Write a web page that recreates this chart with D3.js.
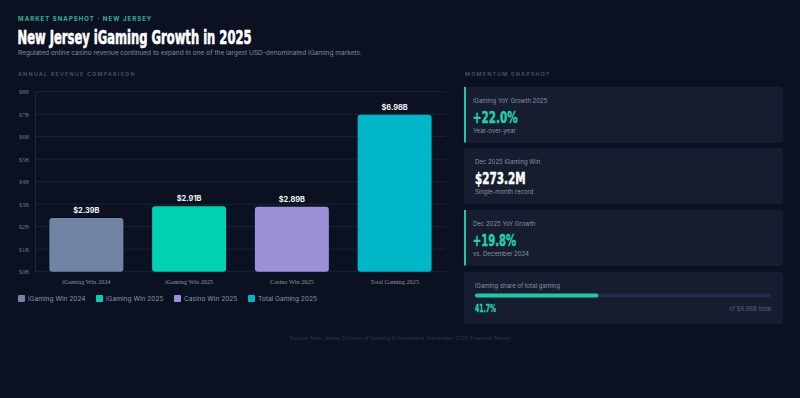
<!DOCTYPE html>
<html><head><meta charset="utf-8">
<script src="https://cdn.jsdelivr.net/npm/d3@7"></script>
<style>
html,body{margin:0;padding:0;background:#0b1120;}
svg{display:block;}
</style></head>
<body>
<svg id="chart" width="800" height="398"></svg>
<script>
const categories = ["iGaming Win 2024", "iGaming Win 2025", "Casino Win 2025", "Total Gaming 2025"];
const values = [2.39, 2.91, 2.89, 6.98];
const valueLabels = ["$2.39B", "$2.91B", "$2.89B", "$6.98B"];
const barColors = ["#7184a6", "#00d1b2", "#9d8fd8", "#00b7c9"];
const yTicks = [0, 1, 2, 3, 4, 5, 6, 7, 8];
const yTickLabels = ["$0B", "$1B", "$2B", "$3B", "$4B", "$5B", "$6B", "$7B", "$8B"];
const cardTitles = ["iGaming YoY Growth 2025", "Dec 2025 iGaming Win", "Dec 2025 YoY Growth"];
const cardValues = ["+22.0%", "$273.2M", "+19.8%"];
const cardNotes = ["Year-over-year", "Single-month record", "vs. December 2024"];
const cardAccent = [true, false, true];
const shareValue = [41.7];

const svg = d3.select("#chart");
const W = 800, H = 398;
svg.append("rect").attr("width", W).attr("height", H).attr("fill", "#0b1120");

const sans = "Inter, 'Noto Sans', sans-serif";
const cond = "'DejaVu Sans Condensed', 'Liberation Sans Narrow', sans-serif";

// Header
svg.append("text").attr("x", 18).attr("y", 21).text("MARKET SNAPSHOT · NEW JERSEY")
  .attr("fill", "#2bb79a").attr("font-family", sans).attr("font-size", 6).attr("font-weight", 700)
  .attr("letter-spacing", 1.05);
svg.append("text").attr("x", 17.5).attr("y", 44).text("New Jersey iGaming Growth in 2025")
  .attr("fill", "#ffffff").attr("stroke", "#ffffff").attr("stroke-width", 0.6)
  .attr("font-family", cond).attr("font-size", 19.5).attr("font-weight", 700)
  .attr("textLength", 234).attr("lengthAdjust", "spacingAndGlyphs");
svg.append("text").attr("x", 18).attr("y", 55).text("Regulated online casino revenue continued to expand in one of the largest USD-denominated iGaming markets.")
  .attr("fill", "#838b9d").attr("font-family", sans).attr("font-size", 6.55);
svg.append("text").attr("x", 18).attr("y", 76).text("ANNUAL REVENUE COMPARISON")
  .attr("fill", "#4a5468").attr("font-family", sans).attr("font-size", 5.4).attr("font-weight", 600).attr("letter-spacing", 1.2);

// Chart
const x = d3.scaleBand().domain(categories).range([35, 446]).paddingInner(0.28).paddingOuter(0.14);
const y = d3.scaleLinear().domain([0, 8]).range([271.7, 91.7]);

const grid = svg.append("g");
grid.selectAll("line").data(yTicks).join("line")
  .attr("x1", 35).attr("x2", 446).attr("y1", d => y(d)).attr("y2", d => y(d))
  .attr("stroke", "#1a2335").attr("stroke-width", 1);
svg.append("line").attr("x1", 35.5).attr("x2", 35.5).attr("y1", y(8)).attr("y2", y(0))
  .attr("stroke", "#1e2738");

const yAxis = svg.append("g").attr("transform", "translate(35,0)")
  .call(d3.axisLeft(y).tickValues(yTicks).tickFormat((d, i) => yTickLabels[i]).tickSize(0).tickPadding(6));
yAxis.select(".domain").remove();
yAxis.selectAll("text").attr("fill", "#6b7488").attr("font-family", "'Liberation Serif', serif").attr("font-size", 6);

const xAxis = svg.append("g").attr("transform", `translate(0,${y(0)})`)
  .call(d3.axisBottom(x).tickSize(0).tickPadding(8));
xAxis.select(".domain").remove();
xAxis.selectAll("text").attr("fill", "#8a93a6").attr("font-family", "'Liberation Serif', serif").attr("font-size", 6.3);

svg.append("g").selectAll("rect").data(values).join("rect")
  .attr("x", (d, i) => x(categories[i])).attr("width", x.bandwidth())
  .attr("y", d => y(d)).attr("height", d => y(0) - y(d))
  .attr("rx", 3).attr("fill", (d, i) => barColors[i]);

svg.append("g").selectAll("text").data(values).join("text")
  .attr("x", (d, i) => x(categories[i]) + x.bandwidth() / 2).attr("y", d => y(d) - 5)
  .attr("text-anchor", "middle").text((d, i) => valueLabels[i])
  .attr("fill", "#eef1f6").attr("font-family", sans).attr("font-size", 7.4).attr("font-weight", 700);

// Legend
const legendX = [18, 96, 174, 248];
const lg = svg.append("g").selectAll("g").data(categories).join("g")
  .attr("transform", (d, i) => `translate(${legendX[i]},295)`);
lg.append("rect").attr("width", 7).attr("height", 7).attr("rx", 1).attr("fill", (d, i) => barColors[i]);
lg.append("text").attr("x", 10).attr("y", 6.2).text(d => d)
  .attr("fill", "#8a93a6").attr("font-family", sans).attr("font-size", 6.6);

// Right panel
svg.append("text").attr("x", 465).attr("y", 76).text("MOMENTUM SNAPSHOT")
  .attr("fill", "#4a5468").attr("font-family", sans).attr("font-size", 5.4).attr("font-weight", 600).attr("letter-spacing", 1.2);

const cardY = [87, 148.5, 210];
const cardH = 55.5;
const valueWidths = [45, 50.5, 43.5];
const cards = svg.append("g").selectAll("g").data(cardTitles).join("g")
  .attr("transform", (d, i) => `translate(464,${cardY[i]})`);
cards.append("rect").attr("width", 319).attr("height", cardH).attr("rx", 4).attr("fill", "#151d2f")
  .attr("stroke", "#19223a").attr("stroke-width", 0.5);
cards.filter((d, i) => cardAccent[i]).append("rect").attr("width", 2).attr("height", cardH).attr("fill", "#1ec8a5");
cards.append("text").attr("x", (d, i) => cardAccent[i] ? 9 : 11).attr("y", 15.5).text(d => d)
  .attr("fill", "#8a93a6").attr("font-family", sans).attr("font-size", 6.0);
cards.append("text").attr("x", (d, i) => cardAccent[i] ? 8.7 : 11).attr("y", 35.5).text((d, i) => cardValues[i])
  .attr("fill", (d, i) => cardAccent[i] ? "#22d1ac" : "#ffffff")
  .attr("stroke", (d, i) => cardAccent[i] ? "#22d1ac" : "#ffffff").attr("stroke-width", 0.45)
  .attr("font-family", cond).attr("font-size", 15.5).attr("font-weight", 700)
  .attr("textLength", (d, i) => valueWidths[i]).attr("lengthAdjust", "spacingAndGlyphs");
cards.append("text").attr("x", (d, i) => cardAccent[i] ? 9 : 11).attr("y", 45.5).text((d, i) => cardNotes[i])
  .attr("fill", "#8a93a6").attr("font-family", sans).attr("font-size", 6.0);

// Share card
const sc = svg.append("g").attr("transform", "translate(464,272)");
sc.append("rect").attr("width", 319).attr("height", 51.5).attr("rx", 4).attr("fill", "#151d2f")
  .attr("stroke", "#19223a").attr("stroke-width", 0.5);
sc.append("text").attr("x", 11).attr("y", 15.5).text("iGaming share of total gaming")
  .attr("fill", "#8a93a6").attr("font-family", sans).attr("font-size", 6.0);
const sx = d3.scaleLinear().domain([0, 100]).range([11, 307]);
sc.append("rect").attr("x", sx(0)).attr("y", 21.5).attr("width", sx(100) - sx(0)).attr("height", 4).attr("rx", 2).attr("fill", "#1f2d4a");
sc.append("rect").attr("x", sx(0)).attr("y", 21.5).attr("width", sx(shareValue[0]) - sx(0)).attr("height", 4).attr("rx", 2).attr("fill", "#1ec8a5");
sc.append("text").attr("x", 11).attr("y", 40).text(shareValue[0].toFixed(1) + "%")
  .attr("fill", "#22d1ac").attr("stroke", "#22d1ac").attr("stroke-width", 0.3)
  .attr("font-family", cond).attr("font-size", 10).attr("font-weight", 700)
  .attr("textLength", 21).attr("lengthAdjust", "spacingAndGlyphs");
sc.append("text").attr("x", 307).attr("y", 39).attr("text-anchor", "end").text("of " + valueLabels[3] + " total")
  .attr("fill", "#5b6478").attr("font-family", sans).attr("font-size", 6);

// Footer
svg.append("text").attr("x", 400).attr("y", 340).attr("text-anchor", "middle")
  .text("Source: New Jersey Division of Gaming Enforcement, December 2025 Financial Report")
  .attr("fill", "#2c3550").attr("font-family", sans).attr("font-size", 5.4);
</script>
</body></html>
